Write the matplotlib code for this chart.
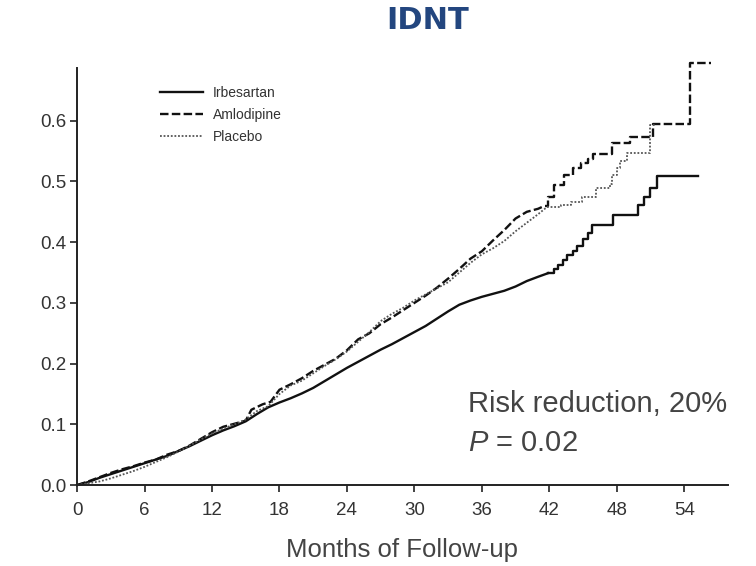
import matplotlib
matplotlib.use("Agg")
import matplotlib.pyplot as plt

plt.rcParams['font.family'] = ['Liberation Sans', 'DejaVu Sans']
plt.rcParams['mathtext.fontset'] = 'custom'
plt.rcParams['mathtext.rm'] = 'Liberation Sans'
plt.rcParams['mathtext.it'] = 'Liberation Sans:italic'

# cumulative event proportion by month of follow-up
irb_months = [0, 1, 2, 3, 4, 5, 6, 7, 8, 9, 10, 11, 12, 13, 14, 15, 16, 17, 18,
              19, 20, 21, 22, 23, 24, 25, 26, 27, 28, 29, 30, 31, 32, 33, 34, 35,
              36, 37, 38, 39, 40, 41, 41.9, 42.4, 42.8, 43.2, 43.6, 44.1, 44.5,
              45.0, 45.4, 45.8, 47.7, 49.9, 50.4, 51.0, 51.6, 55.2]
irb_values = [0, 0.005, 0.012, 0.018, 0.024, 0.030, 0.036, 0.042, 0.048, 0.056,
              0.064, 0.073, 0.082, 0.090, 0.097, 0.105, 0.117, 0.128, 0.136,
              0.143, 0.151, 0.160, 0.171, 0.182, 0.193, 0.203, 0.213, 0.223,
              0.232, 0.242, 0.252, 0.262, 0.274, 0.286, 0.297, 0.304, 0.310,
              0.315, 0.320, 0.327, 0.336, 0.343, 0.349, 0.356, 0.362, 0.371,
              0.379, 0.386, 0.393, 0.405, 0.415, 0.428, 0.445, 0.462, 0.475,
              0.489, 0.509, 0.509]

aml_months = [0, 1, 2, 3, 4, 5, 6, 7, 8, 9, 10, 11, 12, 13, 14, 15, 15.5, 16.5,
              17.2, 18, 19, 20, 21, 22, 23, 24, 25, 26, 27, 28, 29, 30, 31, 32,
              33, 34, 35, 36, 37, 38, 39, 40, 41, 41.6, 41.9, 42.4, 43.3, 44.1,
              44.8, 45.4, 45.9, 47.6, 49.2, 51.2, 54.5, 56.4]
aml_values = [0, 0.006, 0.013, 0.020, 0.026, 0.031, 0.037, 0.042, 0.050, 0.056,
              0.065, 0.076, 0.087, 0.096, 0.101, 0.106, 0.124, 0.133, 0.137,
              0.157, 0.166, 0.176, 0.188, 0.198, 0.208, 0.222, 0.240, 0.250,
              0.265, 0.276, 0.288, 0.300, 0.312, 0.325, 0.340, 0.356, 0.373,
              0.385, 0.403, 0.420, 0.439, 0.450, 0.455, 0.460, 0.475, 0.494,
              0.511, 0.522, 0.530, 0.537, 0.545, 0.563, 0.573, 0.595, 0.695,
              0.695]

pla_months = [0, 1, 2, 3, 4, 5, 6, 7, 8, 9, 10, 11, 12, 13, 14, 15, 16, 17, 18,
              19, 20, 21, 22, 23, 24, 25, 26, 27, 28, 29, 30, 31, 32, 33, 34, 35,
              36, 37, 38, 39, 40, 41, 41.8, 43.0, 43.9, 44.9, 46.2, 47.4, 47.6,
              48.0, 48.3, 48.9, 51.0, 51.5]
pla_values = [0, 0.003, 0.006, 0.011, 0.017, 0.023, 0.030, 0.038, 0.046, 0.055,
              0.065, 0.075, 0.085, 0.093, 0.100, 0.108, 0.122, 0.130, 0.150,
              0.164, 0.172, 0.184, 0.196, 0.207, 0.220, 0.236, 0.252, 0.270,
              0.282, 0.292, 0.304, 0.314, 0.324, 0.334, 0.350, 0.366, 0.380,
              0.390, 0.402, 0.418, 0.432, 0.446, 0.458, 0.461, 0.466, 0.475,
              0.489, 0.496, 0.510, 0.522, 0.533, 0.547, 0.593, 0.593]

x_ticks = [0, 6, 12, 18, 24, 30, 36, 42, 48, 54]
y_ticks = [0.0, 0.1, 0.2, 0.3, 0.4, 0.5, 0.6]

fig = plt.figure(figsize=(7.56, 5.66), dpi=100)
ax = fig.add_axes([0.102, 0.143, 0.861, 0.737])


def draw_curve(months, values, label, **style):
    # dense early follow-up drawn as a line, sparse tail as a staircase
    k = next(i for i, m in enumerate(months) if m >= 41.5)
    ax.plot(months[:k + 1], values[:k + 1], clip_on=False, **style)
    ax.plot(months[k:], values[k:], drawstyle='steps-post', clip_on=False,
            label=label, **style)


draw_curve(irb_months, irb_values, 'Irbesartan', color='#111111', lw=1.7)
draw_curve(aml_months, aml_values, 'Amlodipine', color='#111111', lw=1.7,
           dashes=(3.6, 1.4))
draw_curve(pla_months, pla_values, 'Placebo', color='#555555', lw=1.3,
           linestyle=(0, (1, 1)))

ax.set_xlim(0, 57.9)
ax.set_ylim(0, 0.687)
ax.set_xticks(x_ticks)
ax.set_yticks(y_ticks)
ax.set_yticklabels([f"{v:.1f}" for v in y_ticks])

for side in ['top', 'right']:
    ax.spines[side].set_visible(False)
for side in ['left', 'bottom']:
    ax.spines[side].set_linewidth(1.4)
    ax.spines[side].set_color('#222222')
ax.tick_params(direction='out', length=5, width=1.2, color='#222222',
               labelsize=13.5, labelcolor='#333333')
ax.tick_params(axis='y', pad=3)
ax.tick_params(axis='x', pad=7)

leg = ax.legend(loc='upper left', bbox_to_anchor=(0.1275, 0.956),
                frameon=False, fontsize=10, handlelength=3.1,
                handletextpad=0.7, labelspacing=0.55, borderpad=0,
                borderaxespad=0)
for t in leg.get_texts():
    t.set_color('#333333')

fig.text(0.565, 0.964, 'IDNT', family='DejaVu Sans', weight='bold',
         fontsize=22, color='#23467f', ha='center', va='center')
fig.text(0.532, 0.028, 'Months of Follow-up', fontsize=18.5, color='#444444',
         ha='center', va='center')
fig.text(0.619, 0.286, 'Risk reduction, 20%', fontsize=21, color='#444444',
         ha='left', va='center')
fig.text(0.619, 0.217, r'$P$ = 0.02', fontsize=21, color='#444444',
         ha='left', va='center')

fig.savefig('out.png', dpi=100)
